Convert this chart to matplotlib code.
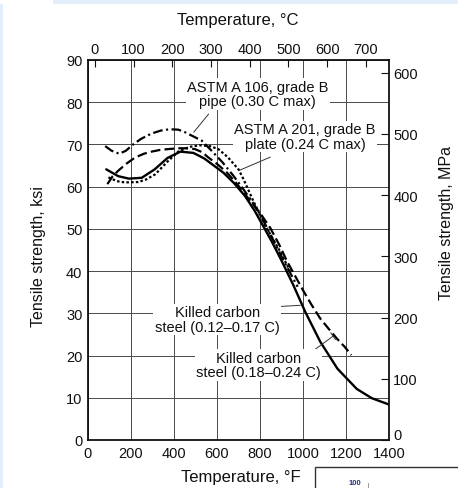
import matplotlib
matplotlib.use('Agg')
import matplotlib.pyplot as plt
import matplotlib.transforms as mtransforms
from matplotlib.patches import Rectangle
from matplotlib.lines import Line2D

plt.rcParams['font.family'] = ['Liberation Sans', 'DejaVu Sans']
plt.rcParams['lines.scale_dashes'] = False

# curves: temperature in deg F, tensile strength in ksi
solid_f = [85, 140, 190, 250, 310, 370, 430, 490, 540, 580, 630, 680, 730, 775,
           820, 860, 900, 955, 1010, 1080, 1160, 1250, 1320, 1400]
solid_ksi = [64.1, 62.5, 61.9, 62.1, 64.1, 66.8, 68.3, 68.0, 66.7, 65.2, 63.3, 60.8,
             57.8, 54.3, 50.2, 46.5, 42.5, 36.7, 30.4, 23.3, 16.9, 12.1, 9.9, 8.4]

dashed_f = [90, 115, 141, 180, 219, 260, 296, 335, 373, 420, 451, 497, 530, 560,
            600, 645, 692, 740, 800, 848, 890, 926, 965, 1003, 1040, 1080, 1120,
            1158, 1195, 1225]
dashed_ksi = [60.6, 62.5, 63.8, 65.5, 66.9, 67.8, 68.3, 68.7, 68.9, 69.1, 69.1, 68.9,
              68.2, 66.9, 65.4, 63.4, 60.7, 57.6, 53.8, 50.2, 46.2, 42.3, 38.7, 35.2,
              32.0, 28.8, 26.3, 24.0, 22.0, 20.1]

dashdot_f = [80, 110, 145, 176, 210, 246, 296, 340, 380, 420, 451, 490, 529, 575,
             625, 676, 720, 769, 820, 870, 920, 975]
dashdot_ksi = [69.6, 68.5, 67.8, 68.5, 70.0, 71.3, 72.6, 73.3, 73.6, 73.5, 72.9, 71.9,
               70.9, 68.5, 65.8, 62.6, 59.6, 56.0, 51.5, 46.5, 41.5, 36.3]

dotted_f = [95, 135, 172, 234, 270, 312, 373, 420, 470, 520, 567, 606, 650, 700,
            723, 769, 831, 893, 940]
dotted_ksi = [62.2, 61.3, 61.0, 61.1, 61.7, 62.9, 66.1, 68.3, 69.4, 69.8, 69.6, 68.9,
              67.0, 64.1, 61.8, 56.6, 50.2, 44.7, 40.0]

f_ticks = [0, 200, 400, 600, 800, 1000, 1200, 1400]
ksi_ticks = [0, 10, 20, 30, 40, 50, 60, 70, 80, 90]
c_ticks = [0, 100, 200, 300, 400, 500, 600, 700]
mpa_ticks = [0, 100, 200, 300, 400, 500, 600]

W, H = 458, 489
fig = plt.figure(figsize=(W / 100, H / 100), dpi=100)
fig.patch.set_facecolor('white')

# light blue scan border
fig.add_artist(Rectangle((53 / W, 1 - 5 / H), 1, 5 / H, transform=fig.transFigure,
                         color='#e2effa', lw=0, zorder=-5))
fig.add_artist(Rectangle((0, 0), 3 / W, 1 - 5 / H, transform=fig.transFigure,
                         color='#e2effa', lw=0, zorder=-5))

ax = fig.add_axes([88 / W, 48 / H, 301 / W, 380 / H])
ax.set_xlim(0, 1400)
ax.set_ylim(0, 90)
ax.set_xticks(f_ticks)
ax.set_yticks(ksi_ticks)
ax.grid(True, color='#4a4a4a', lw=0.7)
ax.set_axisbelow(True)
ax.tick_params(axis='both', length=0, labelsize=10.5, colors='#111111')
ax.tick_params(axis='x', pad=4)
ax.tick_params(axis='y', pad=4)
for s in ax.spines.values():
    s.set_linewidth(1.3)
    s.set_color('#111111')

ax.plot(solid_f, solid_ksi, color='black', lw=1.7, solid_capstyle='round')
ax.plot(dashed_f, dashed_ksi, color='black', lw=1.6, ls=(0, (7, 3)))
ax.plot(dashdot_f, dashdot_ksi, color='black', lw=1.6, ls=(0, (7, 2.5, 1.5, 2.5)))
ax.plot(dotted_f, dotted_ksi, color='black', lw=1.6, ls=(0, (1.8, 1.6)))

secx = ax.secondary_xaxis('top', functions=(lambda f: (f - 32) / 1.8,
                                            lambda c: c * 1.8 + 32))
secx.set_xticks(c_ticks)
secx.tick_params(direction='in', length=5, width=0.8, labelsize=10.5, pad=3,
                 colors='#111111')
secx.spines['top'].set_visible(False)

secy = ax.secondary_yaxis('right', functions=(lambda k: k * 6.895,
                                              lambda m: m / 6.895))
secy.set_yticks(mpa_ticks)
secy.tick_params(direction='in', length=6, width=0.8, labelsize=10.5, pad=3,
                 colors='#111111')
secy.spines['right'].set_visible(False)
# the 0 MPa label sits just above the corner, clear of the 1400 label
shift = mtransforms.ScaledTranslation(0, 6 / 100, fig.dpi_scale_trans)
zero_lab = secy.get_yticklabels()[0]
zero_lab.set_transform(zero_lab.get_transform() + shift)

box = dict(facecolor='white', edgecolor='none', pad=1.0)
txt = dict(fontsize=10.5, ha='center', va='center', linespacing=1.05,
           color='#111111', bbox=box, zorder=5)
ax.text(790, 82.0, 'ASTM A 106, grade B\npipe (0.30 C max)', **txt)
ax.text(1010, 71.9, 'ASTM A 201, grade B\nplate (0.24 C max)', **txt)
ax.text(601, 28.6, 'Killed carbon\nsteel (0.12\u20130.17 C)', **txt)
ax.text(793, 17.8, 'Killed carbon\nsteel (0.18\u20130.24 C)', **txt)

lead = dict(arrowstyle='-', color='#333333', lw=0.7, shrinkA=0, shrinkB=0)
ax.annotate('', xy=(492, 72.9), xytext=(561, 77.2), arrowprops=lead)
ax.annotate('', xy=(701, 63.8), xytext=(848, 67.0), arrowprops=lead)
ax.annotate('', xy=(987, 31.9), xytext=(816, 31.4), arrowprops=lead)
ax.annotate('', xy=(1140, 24.6), xytext=(1041, 20.9), arrowprops=lead)
ax.annotate('', xy=(1129, 25.4), xytext=(1151, 23.8), arrowprops=lead)

fig.text(238 / W, 1 - 20 / H, 'Temperature, \u00b0C', fontsize=12, ha='center',
         va='center', color='#111111')
fig.text(241 / W, 1 - 478 / H, 'Temperature, \u00b0F', fontsize=12, ha='center',
         va='center', color='#111111')
fig.text(39 / W, 1 - 257 / H, 'Tensile strength, ksi', fontsize=11.5, rotation=90,
         ha='center', va='center', color='#111111')
fig.text(446 / W, 1 - 223 / H, 'Tensile strength, MPa', fontsize=11.5, rotation=90,
         ha='center', va='center', color='#111111')

# edge of a neighbouring figure caught in the scan
fig.add_artist(Rectangle((315 / W, -0.01), 0.4, 21 / H + 0.01, transform=fig.transFigure,
                         facecolor='white', edgecolor='#333333', lw=1.0))
fig.text(355 / W, 1 - 484 / H, '100', fontsize=5.5, fontweight='bold', ha='center',
         va='center', color='#2a3580')
fig.add_artist(Line2D([368 / W, 368 / W], [0, 1 - 484 / H], transform=fig.transFigure,
                      color='#999999', lw=0.7))

fig.savefig('out.png', dpi=100)
